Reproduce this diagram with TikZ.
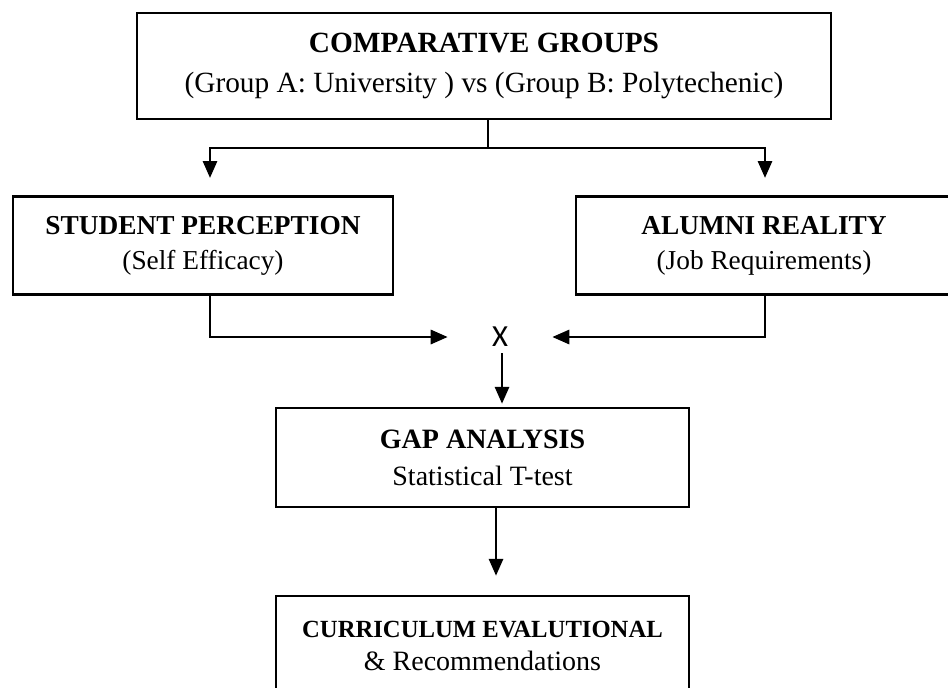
\documentclass[tikz,border=0pt]{standalone}
\usepackage{fontspec}
\setmainfont{Liberation Serif}
\newfontfamily\xfont{Carlito}
\usetikzlibrary{arrows.meta,calc}
\tikzset{
  box/.style={draw,line width=1.8pt,align=center,inner sep=0pt},
  conn/.style={line width=2.2pt},
  arr/.style={conn,-{Triangle[width=10.5pt,length=12.75pt]}},
}
\begin{document}
\begin{tikzpicture}[x=0.75pt,y=-0.75pt]
\useasboundingbox (0,0) rectangle (948,687);
\node[box,minimum width=520.5pt,minimum height=79.5pt,font=\fontsize{22}{30}\selectfont] (groups) at (484,66)
  {\textbf{COMPARATIVE GROUPS}\\(Group A: University ) vs (Group B: Polytechenic)};
\node[box,minimum width=285pt,minimum height=73.5pt,font=\fontsize{20.5}{26.25}\selectfont] (student) at (203,245.5)
  {\textbf{STUDENT PERCEPTION}\\(Self Efficacy)};
\node[box,minimum width=282pt,minimum height=73.5pt,font=\fontsize{20.5}{26.25}\selectfont] (alumni) at (764,245.5)
  {\textbf{ALUMNI REALITY}\\(Job Requirements)};
\node[minimum width=78pt,minimum height=24pt,inner sep=0pt,font=\xfont\fontsize{23}{23}\selectfont] (mix) at (500,337)
  {X};
\node[box,minimum width=309.75pt,minimum height=74.25pt,font=\fontsize{21}{27.75}\selectfont] (gap) at (482.5,457.5)
  {\textbf{GAP ANALYSIS}\\Statistical T-test};
\node[box,minimum width=309.75pt,minimum height=75pt,font=\fontsize{21}{24.75}\selectfont] (curr) at (482.5,646)
  {{\fontsize{18.5}{20}\selectfont\textbf{CURRICULUM EVALUTIONAL}}\\\& Recommendations};
% split below the top box
\coordinate (split) at (488,148);
\coordinate (ltip) at (210,178);
\coordinate (rtip) at (765,178);
\draw[conn] (split |- groups.south) -- (split);
\draw[arr] (split) -| (ltip);
\draw[arr] (split) -| (rtip);
% into the gap analysis
\draw[arr] ($(student.south)+(7,0)$) |- (mix.west);
\draw[arr] ($(alumni.south)+(1,0)$) |- (mix.east);
\draw[arr] ($(mix.south)+(2,0)$) -- ($(gap.north)+(19.5,-3)$);
\draw[arr] ($(gap.south)+(13.5,0)$) -- ($(curr.north)+(13.5,-19)$);
\end{tikzpicture}
\end{document}
